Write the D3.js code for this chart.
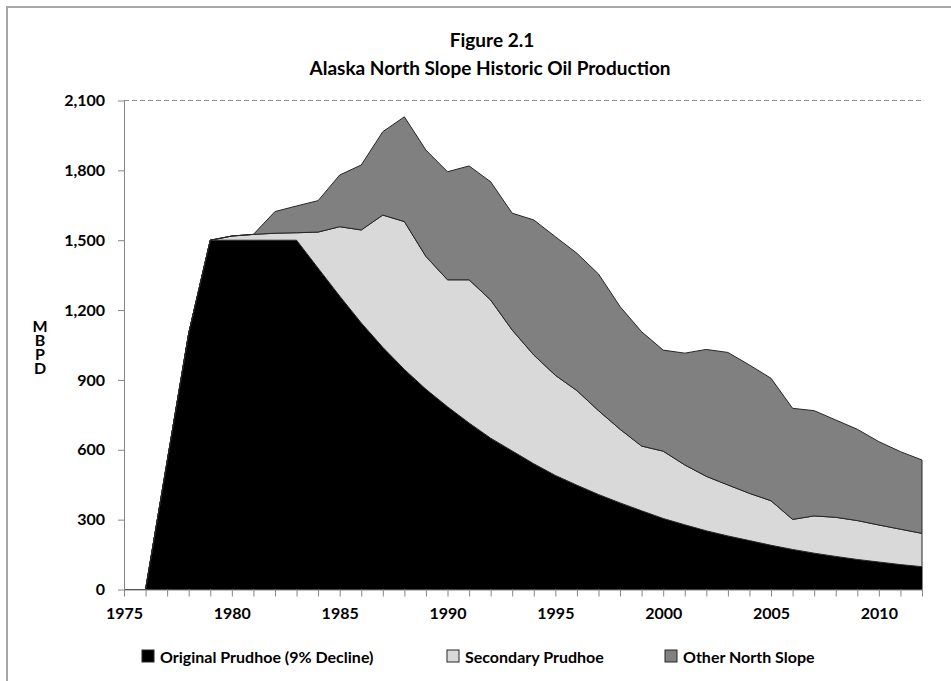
<!DOCTYPE html>
<html>
<head>
<meta charset="utf-8">
<script src="https://cdn.jsdelivr.net/npm/d3@7"></script>
<style>
  html, body { margin: 0; padding: 0; background: #fff; }
  svg { display: block; }
  text { font-family: Lato, "Open Sans", sans-serif; font-weight: bold; fill: #000; }
</style>
</head>
<body>
<svg id="chart" width="951" height="681"></svg>
<script>
const years = [1975,1976,1977,1978,1979,1980,1981,1982,1983,1984,1985,1986,1987,1988,1989,1990,1991,1992,1993,1994,1995,1996,1997,1998,1999,2000,2001,2002,2003,2004,2005,2006,2007,2008,2009,2010,2011,2012];
const originalPrudhoe = [0,0,550,1100,1500,1500,1500,1500,1500,1380,1260,1145,1040,945,860,785,715,650,595,540,490,448,408,372,338,305,278,252,230,210,190,172,156,142,129,118,107,98];
const secondaryPrudhoe = [0,0,0,0,0,18,25,30,32,155,298,399,568,635,570,545,615,593,519,467,430,406,360,316,278,289,257,234,219,203,191,129,160,168,167,159,152,143];
const otherNorthSlope = [0,0,0,0,0,0,0,93,115,135,222,279,358,450,457,464,489,508,502,580,595,590,587,527,491,434,480,545,569,551,526,477,452,418,392,358,333,315];
const seriesNames = ["Original Prudhoe (9% Decline)", "Secondary Prudhoe", "Other North Slope"];
const seriesColors = ["#000000", "#d9d9d9", "#808080"];
const yTicks = [0,300,600,900,1200,1500,1800,2100];
const xLabelYears = [1975,1980,1985,1990,1995,2000,2005,2010];
const titleLines = ["Figure 2.1", "Alaska North Slope Historic Oil Production"];
const yAxisTitle = "MBPD";

const svg = d3.select("#chart");

// outer frame
svg.append("path")
  .attr("d", "M7,690 L7,7 L960,7")
  .attr("fill", "none").attr("stroke", "#a6a6a6").attr("stroke-width", 2);

const x = d3.scaleLinear().domain([1975, 2012]).range([124, 922]);
const y = d3.scaleLinear().domain([0, 2100]).range([589.5, 100.5]);

const table = years.map((yr, i) => ({
  year: yr,
  s0: originalPrudhoe[i],
  s1: secondaryPrudhoe[i],
  s2: otherNorthSlope[i]
}));
const stack = d3.stack().keys(["s0", "s1", "s2"]);
const stacked = stack(table);

// top gridline (dashed)
svg.append("line")
  .attr("x1", x(1975)).attr("x2", x(2012))
  .attr("y1", y(2100)).attr("y2", y(2100))
  .attr("stroke", "#8c8c8c").attr("stroke-width", 1)
  .attr("stroke-dasharray", "5,3");

const area = d3.area()
  .x(d => x(d.data.year))
  .y0(d => y(d[0]))
  .y1(d => y(d[1]));

svg.append("g").selectAll("path")
  .data(stacked)
  .join("path")
  .attr("d", area)
  .attr("fill", (d, i) => seriesColors[i])
  .attr("stroke", (d, i) => i === 0 ? "#000" : "#262626")
  .attr("stroke-width", 1)
  .attr("stroke-linejoin", "round");

// axes
const yAxis = d3.axisLeft(y)
  .tickValues(yTicks)
  .tickFormat(d3.format(","))
  .tickSize(6)
  .tickSizeOuter(0)
  .tickPadding(13);
const gy = svg.append("g").attr("transform", `translate(${x(1975)},0)`).call(yAxis);
gy.selectAll("path, line").attr("stroke", "#868686");
gy.selectAll("text").style("font-size", "16px").attr("fill", "#000");

const xAxis = d3.axisBottom(x)
  .tickValues(years)
  .tickFormat(d => xLabelYears.includes(d) ? String(d) : "")
  .tickSize(7)
  .tickSizeOuter(0)
  .tickPadding(11);
const gx = svg.append("g").attr("transform", `translate(0,${y(0)})`).call(xAxis);
gx.selectAll("path, line").attr("stroke", "#868686");
gx.selectAll("text").style("font-size", "16px").attr("fill", "#000");

// titles
svg.append("text").attr("x", 492).attr("y", 47).attr("text-anchor", "middle")
  .style("font-size", "19px").text(titleLines[0]);
svg.append("text").attr("x", 490).attr("y", 75).attr("text-anchor", "middle")
  .style("font-size", "19px").text(titleLines[1]);

// y-axis title: upright vertical letters
svg.append("text")
  .attr("x", 40).attr("y", 316)
  .style("font-size", "16px")
  .style("writing-mode", "vertical-rl")
  .style("text-orientation", "upright")
  .style("letter-spacing", "-5px")
  .text(yAxisTitle);

// legend
const legendX = [142, 447, 665];
const lg = svg.append("g");
seriesNames.forEach((name, i) => {
  lg.append("rect").attr("x", legendX[i]).attr("y", 650).attr("width", 12).attr("height", 12)
    .attr("fill", seriesColors[i]).attr("stroke", "#262626").attr("stroke-width", 1);
  lg.append("text").attr("x", legendX[i] + 18).attr("y", 663)
    .style("font-size", "16px").text(name);
});
</script>
</body>
</html>
